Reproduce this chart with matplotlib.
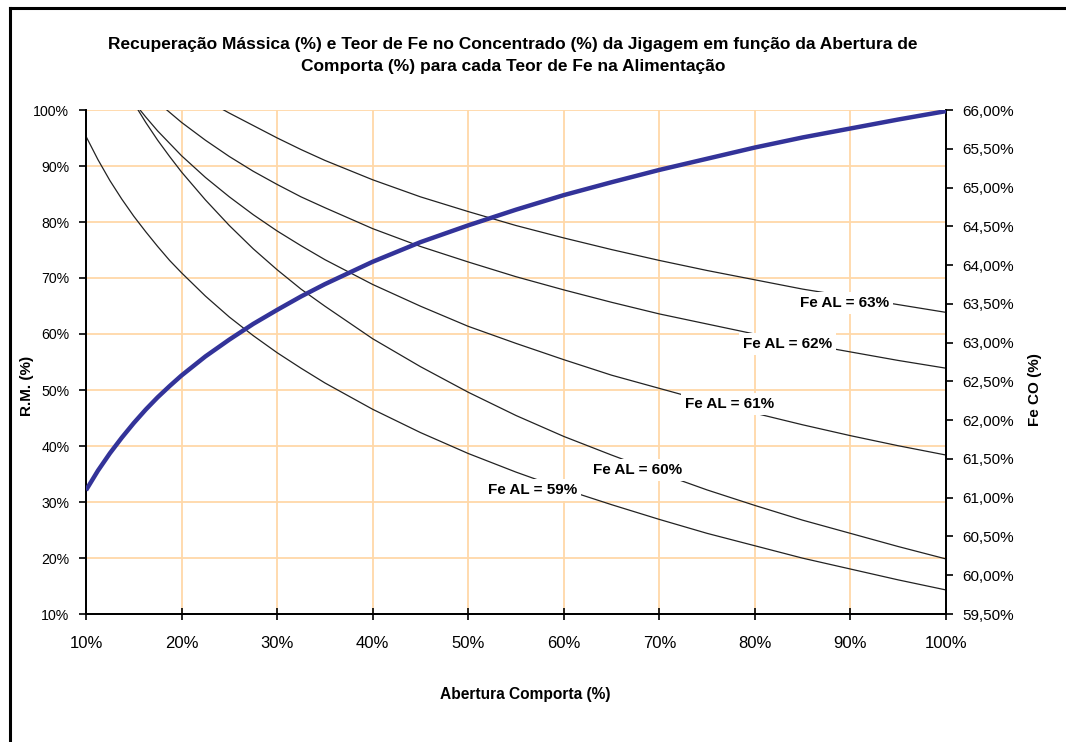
import numpy as np
import matplotlib
matplotlib.use("Agg")
import matplotlib.pyplot as plt
from matplotlib.lines import Line2D

plt.rcParams['font.family'] = ['Liberation Sans', 'DejaVu Sans']

nan = np.nan
# Abertura da comporta (%)
abertura = [10, 11.25, 12.5, 13.75, 15, 16.25, 17.5, 18.75, 20, 22.5, 25, 27.5, 30, 32.5, 35,
            40, 45, 50, 55, 60, 65, 70, 75, 80, 85, 90, 95, 100]
# Recuperação mássica (%)
rec_massica = [32.1, 35.6, 38.7, 41.5, 44.1, 46.5, 48.7, 50.7, 52.6, 56.0, 59.0, 61.8, 64.3, 66.7, 68.9,
               72.9, 76.4, 79.4, 82.2, 84.8, 87.1, 89.3, 91.3, 93.3, 95.1, 96.7, 98.3, 99.8]
# Teor de Fe no concentrado (%) para cada teor de Fe na alimentação
fe_co_59 = [65.66, 65.36, 65.09, 64.85, 64.63, 64.43, 64.24, 64.06, 63.90, 63.60, 63.33, 63.09, 62.87,
            62.67, 62.48, 62.14, 61.84, 61.57, 61.33, 61.11, 60.91, 60.72, 60.54, 60.38, 60.22,
            60.08, 59.94, 59.81]
fe_co_60 = [nan, nan, nan, nan, 66.09, 65.84, 65.61, 65.40, 65.20, 64.84, 64.51, 64.21, 63.94,
            63.69, 63.47, 63.05, 62.69, 62.36, 62.06, 61.79, 61.55, 61.32, 61.10, 60.90, 60.71,
            60.54, 60.37, 60.21]
fe_co_61 = [nan, nan, nan, nan, 66.10, 65.91, 65.73, 65.57, 65.41, 65.13, 64.88, 64.65, 64.44,
            64.25, 64.07, 63.75, 63.47, 63.21, 62.99, 62.78, 62.58, 62.41, 62.24, 62.09, 61.94,
            61.80, 61.67, 61.55]
fe_co_62 = [nan, nan, nan, nan, nan, nan, 66.10, 65.97, 65.84, 65.61, 65.40, 65.21, 65.04,
            64.88, 64.74, 64.47, 64.24, 64.04, 63.85, 63.68, 63.52, 63.37, 63.24, 63.11, 62.99,
            62.88, 62.77, 62.67]
fe_co_63 = [nan, nan, nan, nan, nan, nan, nan, nan, 66.40, 66.13, 65.96, 65.80, 65.64,
            65.49, 65.35, 65.10, 64.88, 64.69, 64.51, 64.35, 64.20, 64.06, 63.93, 63.81, 63.69,
            63.59, 63.49, 63.39]
fe_al = [59, 60, 61, 62, 63]
series_fe = [fe_co_59, fe_co_60, fe_co_61, fe_co_62, fe_co_63]

x_ticks = [10, 20, 30, 40, 50, 60, 70, 80, 90, 100]
rm_ticks = [10, 20, 30, 40, 50, 60, 70, 80, 90, 100]
fe_ticks = [59.5, 60.0, 60.5, 61.0, 61.5, 62.0, 62.5, 63.0, 63.5, 64.0, 64.5, 65.0, 65.5, 66.0]

W, H = 1066, 742
fig = plt.figure(figsize=(W / 100, H / 100), dpi=100)
fig.patch.set_facecolor('white')

ax = fig.add_axes([86 / W, 1 - 614 / H, (946 - 86) / W, (614 - 110) / H])
ax2 = ax.twinx()

ax.set_xlim(10, 100)
ax.set_ylim(10, 100)
ax2.set_ylim(59.5, 66.0)

grid_c = '#FFD8A8'
ax.set_xticks(x_ticks)
ax.set_xticklabels([f'{v}%' for v in x_ticks], fontsize=12)
ax.set_yticks(rm_ticks)
ax.set_yticklabels([f'{v}%' for v in rm_ticks], fontsize=10.2)
ax2.set_yticks(fe_ticks)
ax2.set_yticklabels([f'{v:.2f}%'.replace('.', ',') for v in fe_ticks], fontsize=11)
ax.grid(True, color=grid_c, linewidth=1.3)
ax.set_axisbelow(True)

ax.tick_params(axis='y', direction='out', length=5, width=1.2, pad=7, colors='black')
ax.tick_params(axis='x', direction='inout', length=9, width=1.2, pad=11, colors='black')
ax2.tick_params(axis='y', direction='out', length=5, width=1.2, pad=7, colors='black')

for a in (ax, ax2):
    a.spines['top'].set_visible(False)
    for s in ('left', 'right', 'bottom'):
        a.spines[s].set_linewidth(1.3)
        a.spines[s].set_color('black')

# Curvas de teor de Fe no concentrado (eixo direito)
for vals in series_fe:
    ax2.plot(abertura, vals, color='#222222', linewidth=0.9, zorder=2)

# Rótulos das curvas
label_x = [56.7, 67.7, 77.3, 83.4, 89.4]
label_y = [61.10, 61.36, 62.21, 62.98, 63.51]
for al, lx, ly in zip(fe_al, label_x, label_y):
    ax2.text(lx, ly, f'Fe AL = {al}%', fontsize=11, fontweight='bold', ha='center', va='center',
             zorder=4, bbox=dict(boxstyle='square,pad=0.25', fc='white', ec='none'))

# Recuperação mássica (eixo esquerdo), desenhada por cima
ax2.plot(abertura, rec_massica, color='#333399', linewidth=3.2, transform=ax.transData,
         zorder=5, solid_capstyle='butt')

# Textos
fig.text(513 / W, 1 - 45 / H,
         'Recuperação Mássica (%) e Teor de Fe no Concentrado (%) da Jigagem em função da Abertura de',
         ha='center', va='center', fontsize=12.5, fontweight='bold')
fig.text(513 / W, 1 - 67 / H, 'Comporta (%) para cada Teor de Fe na Alimentação',
         ha='center', va='center', fontsize=12.5, fontweight='bold')
fig.text(27 / W, 1 - 386 / H, 'R.M. (%)', rotation=90, ha='center', va='center',
         fontsize=11, fontweight='bold')
fig.text(1035 / W, 1 - 390 / H, 'Fe CO (%)', rotation=90, ha='center', va='center',
         fontsize=11, fontweight='bold')
fig.text(525 / W, 1 - 694 / H, 'Abertura Comporta (%)', ha='center', va='center',
         fontsize=11.2, fontweight='bold')

# Moldura
fig.add_artist(Line2D([10 / W, 1], [1 - 8 / H, 1 - 8 / H], color='black', linewidth=2.2,
                      transform=fig.transFigure))
fig.add_artist(Line2D([10 / W, 10 / W], [1 - 8 / H, 0], color='black', linewidth=2.2,
                      transform=fig.transFigure))

fig.savefig('out.png', dpi=100, facecolor='white')
